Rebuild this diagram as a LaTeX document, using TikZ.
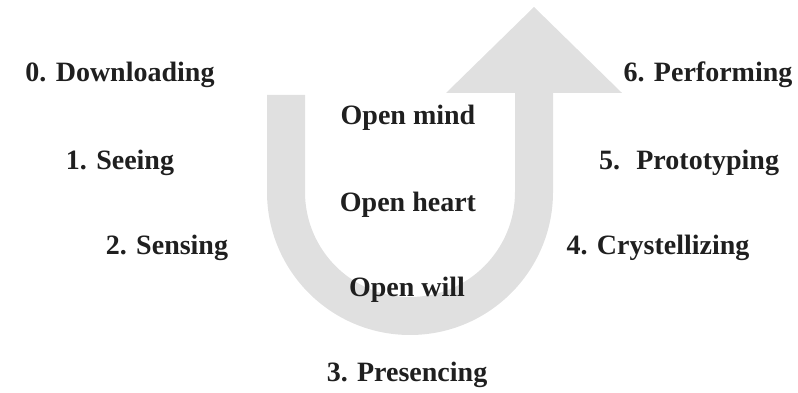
\documentclass[tikz,border=0pt]{standalone}
\usepackage{fontspec}
\setmainfont{Liberation Serif}
\usepackage{tikz}
\usetikzlibrary{positioning}
\definecolor{ugray}{HTML}{E0E0E0}

\begin{document}
\begin{tikzpicture}[
      x=0.75pt, y=0.75pt,
      font=\fontsize{21}{25}\selectfont\bfseries,
      stage/.style={inner sep=0pt, text=black!88},
      openlbl/.style={inner sep=0pt, text=black!88},
      uarrow/.style={fill=ugray, draw=none}
    ]
    \useasboundingbox (0,0) rectangle (798,392);

    % the U-shaped arrow
    \fill[uarrow] (267,297) -- (267,200) arc[start angle=180, end angle=360, radius=107.25pt]
      -- (553,299) -- (622,299) -- (534,385) -- (446,299) -- (515,299) -- (515,200)
      arc[start angle=0, end angle=-180, radius=78.75pt] -- (305,297) -- cycle;

    % left side
    \node[stage] (down) at (120,317) {0. Downloading};
    \node[stage] (see) at (120,229) {1. Seeing};
    \node[stage] (sense) at (167,144) {2. Sensing};

    % bottom
    \node[stage] (pres) at (407,17) {3. Presencing};

    % right side
    \node[stage] (cryst) at (658,144) {4. Crystellizing};
    \node[stage] (proto) at (689,229) {5.~ Prototyping};
    \node[stage] (perf) at (708,317) {6. Performing};

    % inside the U
    \node[openlbl] (mind) at (408,274) {Open mind};
    \node[openlbl] (heart) at (408,187) {Open heart};
    \node[openlbl] (will) at (407,102) {Open will};
  \end{tikzpicture}
\end{document}
